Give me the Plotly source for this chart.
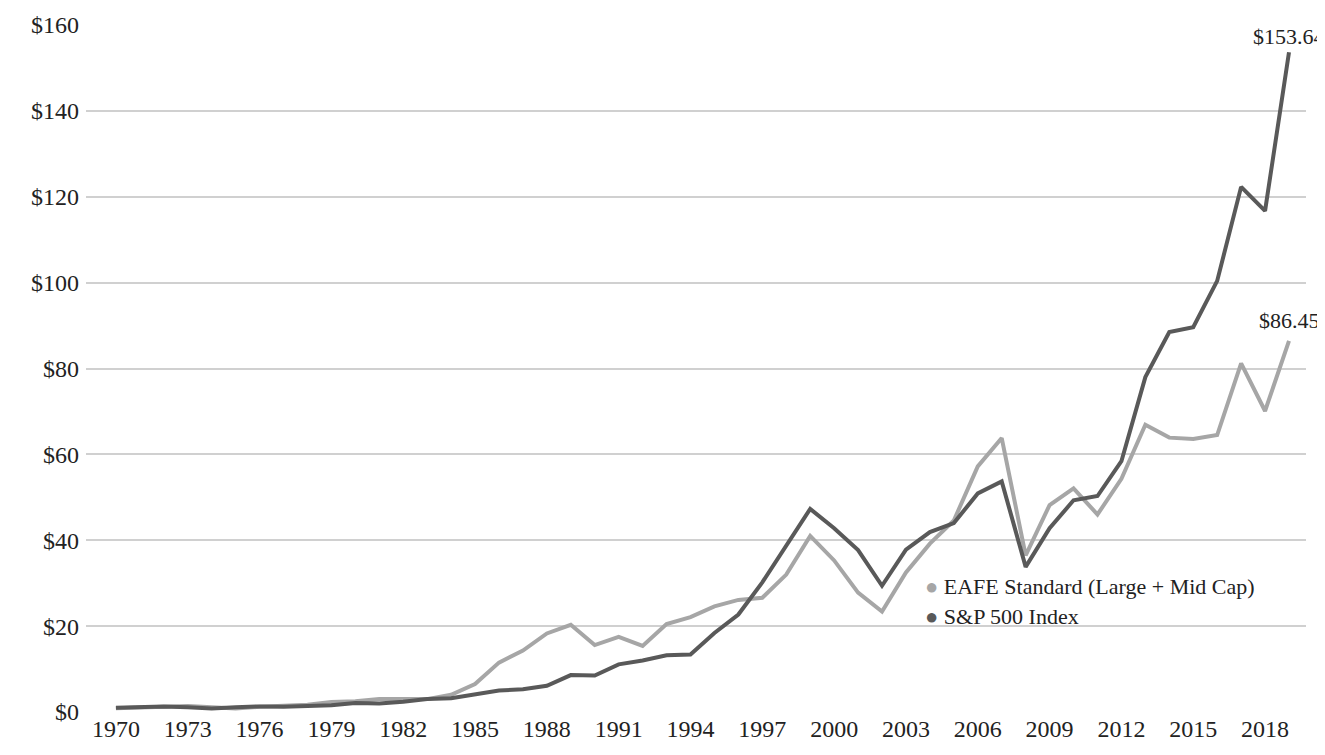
import plotly.graph_objects as go

years = list(range(1970, 2020))
sp500 = [1.0,1.1,1.3,1.1,0.8,1.1,1.3,1.2,1.3,1.6,2.1,2.0,2.4,3.0,3.2,4.2,5.0,5.3,6.1,8.6,8.5,11.1,12.0,13.2,13.4,18.4,22.7,30.2,38.9,47.3,42.8,37.7,29.4,37.8,41.9,44.0,50.9,53.7,33.8,42.8,49.3,50.3,58.4,78.0,88.5,89.6,100.4,122.3,116.7,153.64]
eafe = [0.9,1.0,1.2,1.4,1.1,0.8,1.2,1.4,1.7,2.3,2.5,3.0,3.0,3.0,4.0,6.5,11.5,14.3,18.3,20.3,15.6,17.5,15.4,20.5,22.1,24.6,26.1,26.6,32.0,41.0,35.3,27.8,23.4,32.5,39.2,44.6,57.2,63.8,36.5,48.2,52.1,46.0,54.3,66.9,63.9,63.6,64.5,81.2,70.1,86.45]
tick_years = list(range(1970, 2019, 3))
y_ticks = list(range(0, 161, 20))
names = ["EAFE Standard (Large + Mid Cap)", "S&P 500 Index"]
colors = ["#a6a6a6", "#595959"]

font = "Liberation Serif"
fig = go.Figure()
fig.add_trace(go.Scatter(x=years, y=eafe, mode="lines", name=names[0],
                         line=dict(color=colors[0], width=4), cliponaxis=False))
fig.add_trace(go.Scatter(x=years, y=sp500, mode="lines", name=names[1],
                         line=dict(color=colors[1], width=4), cliponaxis=False))
fig.add_annotation(x=years[-1], y=sp500[-1], text="$%.2f" % sp500[-1], showarrow=False, yshift=16,
                   font=dict(family=font, size=22, color="#222"))
fig.add_annotation(x=years[-1], y=eafe[-1], text="$%.2f" % eafe[-1], showarrow=False, yshift=20,
                   font=dict(family=font, size=22, color="#222"))
for i, (n, c) in enumerate(zip(names, colors)):
    fig.add_annotation(xref="paper", yref="paper", x=0.686, y=0.182 - i * 0.043, xanchor="left",
                       yanchor="middle", showarrow=False,
                       text="<span style='color:%s'>●</span> %s" % (c, n),
                       font=dict(family=font, size=22, color="#222"))
fig.update_layout(
    width=1325, height=755, paper_bgcolor="white", plot_bgcolor="white",
    margin=dict(l=78, r=27, t=17, b=51, autoexpand=False),
    font=dict(family=font, size=24, color="#222"),
    showlegend=False,
    xaxis=dict(range=[1968.75, 2019.71], tickvals=tick_years, ticktext=[str(t) for t in tick_years],
               showgrid=False, zeroline=False, showline=False, ticks="", automargin=False),
    yaxis=dict(range=[0, 160], tickvals=y_ticks, ticktext=["$%d" % v for v in y_ticks],
               showgrid=True, gridcolor="#d0d0d0", gridwidth=1.5, zeroline=False, ticks="",
               automargin=False, ticklabelstandoff=6),
)
fig.write_html("out.html")
